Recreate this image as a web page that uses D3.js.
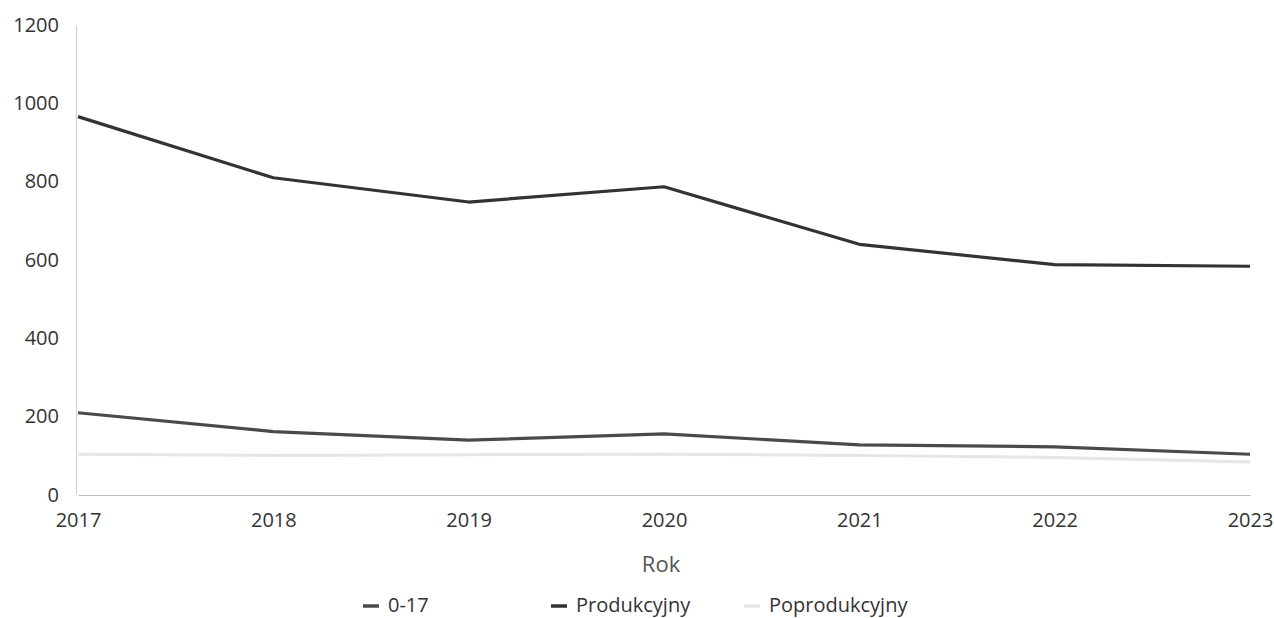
<!DOCTYPE html>
<html><head><meta charset="utf-8">
<script src="https://cdn.jsdelivr.net/npm/d3@7/dist/d3.min.js"></script>
<style>
body{margin:0;background:#fff;}
text{font-family:"Open Sans","Noto Sans",sans-serif;}
</style></head>
<body><svg id="c" width="1274" height="618"></svg>
<script>
const years = [2017, 2018, 2019, 2020, 2021, 2022, 2023];
const seriesNames = ["0-17", "Produkcyjny", "Poprodukcyjny"];
const kids = [210, 162, 140, 156, 128, 123, 104];
const working = [966, 810, 748, 787, 640, 588, 584];
const retired = [104, 101, 103, 104, 101, 96, 84];
const yTicks = [0, 200, 400, 600, 800, 1000, 1200];
const xTitle = "Rok";

const colors = ["#4a4a4a", "#333333", "#e6e6e6"];
const data = [kids, working, retired];

const svg = d3.select("#c");
const m = {l: 78, r: 1250, t: 25, b: 495};
const x = d3.scalePoint().domain(years).range([m.l, m.r]);
const y = d3.scaleLinear().domain([0, 1200]).range([m.b, m.t]);

// axes
const ya = svg.append("g").attr("transform", `translate(${m.l - 2},0)`)
  .call(d3.axisLeft(y).tickValues(yTicks).tickFormat(d3.format("d")).tickSize(0).tickPadding(17));
ya.select(".domain").attr("stroke", "#cfcfcf").attr("stroke-width", 1);
ya.selectAll("text").attr("font-size", 20).attr("fill", "#333").attr("dy", "0.3em");

const xa = svg.append("g").attr("transform", `translate(0,${m.b})`)
  .call(d3.axisBottom(x).tickFormat(d3.format("d")).tickSize(0).tickPadding(18));
xa.select(".domain").attr("stroke", "#bdbdbd").attr("stroke-width", 1.2);
xa.selectAll("text").attr("font-size", 20).attr("fill", "#333");

svg.append("text").attr("x", 661).attr("y", 572).attr("text-anchor", "middle")
  .attr("font-size", 22).attr("fill", "#555").text(xTitle);

const line = d3.line().x((d, i) => x(years[i])).y(d => y(d));
data.forEach((s, k) => {
  svg.append("path").datum(s).attr("d", line).attr("fill", "none")
    .attr("stroke", colors[k]).attr("stroke-width", k === 2 ? 3 : 3.2)
    .attr("stroke-linejoin", "round");
});

// legend
const legX = [363, 551, 744];
seriesNames.forEach((n, i) => {
  const g = svg.append("g").attr("transform", `translate(${legX[i]},606)`);
  g.append("line").attr("x1", 0).attr("x2", 16).attr("y1", 0).attr("y2", 0)
    .attr("stroke", colors[i]).attr("stroke-width", 3.5);
  g.append("text").attr("x", 25).attr("y", 0).attr("dy", "0.3em")
    .attr("font-size", 20).attr("fill", "#333").text(n);
});
</script></body></html>
